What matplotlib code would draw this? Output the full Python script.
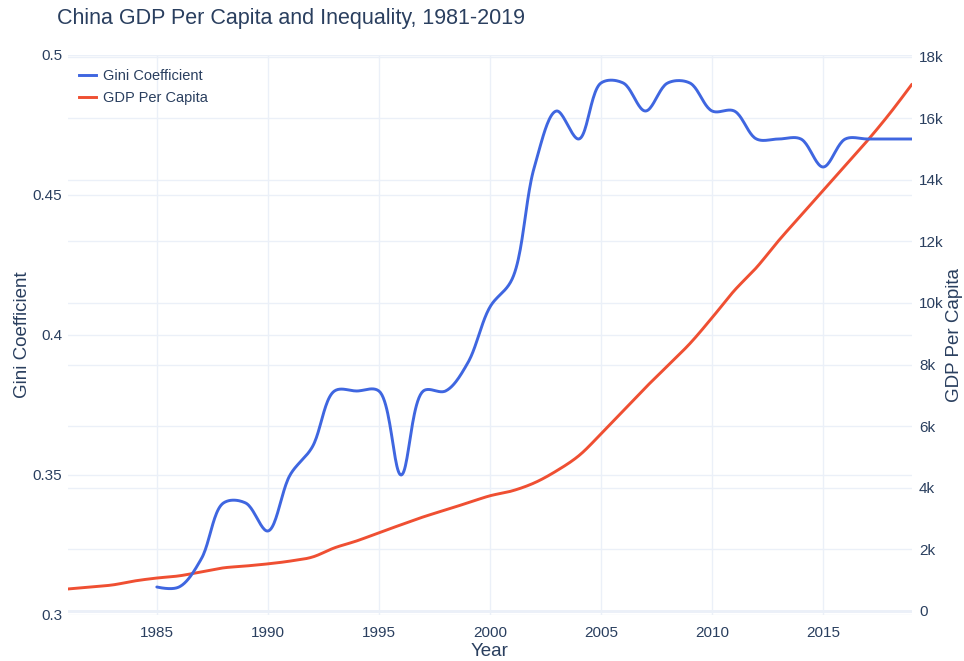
"""
China GDP per capita vs Gini coefficient, 1981-2019
Dual-axis line chart with plotly-style spline smoothing, saved to out.png
"""

import numpy as np
import matplotlib
import matplotlib.pyplot as plt
from matplotlib.lines import Line2D

matplotlib.use("Agg")

# ---- data ----
GINI_YEARS = list(range(1985, 2020))
GINI = [0.31, 0.31, 0.32, 0.34, 0.34, 0.33, 0.35, 0.36, 0.38, 0.38,
        0.38, 0.35, 0.38, 0.38, 0.39, 0.41, 0.42, 0.46, 0.48, 0.47,
        0.49, 0.49, 0.48, 0.49, 0.49, 0.48, 0.48, 0.47, 0.47, 0.47,
        0.46, 0.47, 0.47, 0.47, 0.47]

GDP_YEARS = list(range(1981, 2020))
GDP = [715, 780, 845, 975, 1070, 1140, 1270, 1400, 1460, 1530,
       1620, 1750, 2050, 2275, 2540, 2800, 3055, 3280, 3510, 3740,
       3900, 4160, 4550, 5040, 5750, 6500, 7250, 7960, 8680, 9520,
       10400, 11150, 12025, 12840, 13650, 14460, 15275, 16150, 17100]

GDP_TICKS = [0, 2000, 4000, 6000, 8000, 10000, 12000, 14000, 16000, 18000]
GDP_TICKLABELS = ["0", "2k", "4k", "6k", "8k", "10k", "12k", "14k", "16k", "18k"]
GINI_TICKS = [0.3, 0.35, 0.4, 0.45, 0.5]
GINI_TICKLABELS = ["0.3", "0.35", "0.4", "0.45", "0.5"]
YEAR_TICKS = [1985, 1990, 1995, 2000, 2005, 2010, 2015]

COLORS = {
    "gini": "#3F66E0", "gdp": "#EF4F32", "text": "#2A3F5F",
    "grid": "#EBF0F8", "bg": "#FFFFFF",
}
FONT = "Liberation Sans"
GINI_LIM = (0.3, 0.5)
GDP_LIM = (-130, 18050)


def spline(ax, xs, ys, n=24):
    """Plotly-like smoothed spline (smoothing=1), computed in pixel space."""
    pts = ax.transData.transform(np.column_stack([xs, ys]))
    exp = 0.5
    tangents = []
    for i in range(1, len(pts) - 1):
        p0, p1, p2 = pts[i - 1], pts[i], pts[i + 1]
        d1 = p0 - p1
        d2 = p2 - p1
        d1a = np.hypot(*d1) ** exp
        d2a = np.hypot(*d2) ** exp
        num = d2a * d2a * d1 - d1a * d1a * d2
        den1 = 3 * d2a * (d1a + d2a)
        den2 = 3 * d1a * (d1a + d2a)
        t0 = p1 + (num / den1 if den1 else 0)
        t1 = p1 - (num / den2 if den2 else 0)
        tangents.append((t0, t1))

    t = np.linspace(0, 1, n)[:, None]
    out = [pts[0][None, :]]
    c = tangents[0][0]
    seg = (1 - t) ** 2 * pts[0] + 2 * (1 - t) * t * c + t ** 2 * pts[1]
    out.append(seg[1:])
    for i in range(1, len(pts) - 2):
        a, b = tangents[i - 1][1], tangents[i][0]
        p0, p3 = pts[i], pts[i + 1]
        seg = ((1 - t) ** 3 * p0 + 3 * (1 - t) ** 2 * t * a
               + 3 * (1 - t) * t ** 2 * b + t ** 3 * p3)
        out.append(seg[1:])
    c = tangents[-1][1]
    seg = (1 - t) ** 2 * pts[-2] + 2 * (1 - t) * t * c + t ** 2 * pts[-1]
    out.append(seg[1:])
    pix = np.vstack(out)
    data = ax.transData.inverted().transform(pix)
    return data[:, 0], data[:, 1]


def main():
    plt.rcParams["font.family"] = [FONT, "DejaVu Sans"]
    fig = plt.figure(figsize=(9.64, 6.61), dpi=100, facecolor=COLORS["bg"])
    ax = fig.add_axes([0.0705, 0.0696, 0.8755, 0.8472])   # gini axis + grid
    ax2 = ax.twinx()                                      # gdp axis + line
    ax3 = ax.twinx()                                      # gini line on top

    ax.set_xlim(1981, 2019)
    ax.set_ylim(*GINI_LIM)
    ax2.set_ylim(*GDP_LIM)
    ax3.set_ylim(*GINI_LIM)

    for a in (ax, ax2, ax3):
        for spine in a.spines.values():
            spine.set_visible(False)
        a.tick_params(length=0, colors=COLORS["text"], labelsize=11)
        a.patch.set_visible(False)
    ax.set_zorder(1)
    ax2.set_zorder(2)
    ax3.set_zorder(3)
    ax3.set_yticks([])

    ax.set_xticks(YEAR_TICKS)
    ax.set_yticks(GINI_TICKS)
    ax.set_yticklabels(GINI_TICKLABELS)
    ax2.set_yticks(GDP_TICKS)
    ax2.set_yticklabels(GDP_TICKLABELS)
    ax.tick_params(axis="x", pad=8)
    ax.tick_params(axis="y", pad=4)
    ax2.tick_params(axis="y", pad=5)

    ax.grid(True, color=COLORS["grid"], linewidth=1)
    ax2.grid(True, axis="y", color=COLORS["grid"], linewidth=1)
    ax.set_axisbelow(True)
    ax2.set_axisbelow(True)
    ax2.axhline(0, color=COLORS["grid"], linewidth=2, zorder=0)

    gx, gy = spline(ax2, GDP_YEARS, GDP)
    ax2.plot(gx, gy, color=COLORS["gdp"], linewidth=2.1, solid_capstyle="round")
    sx, sy = spline(ax3, GINI_YEARS, GINI)
    ax3.plot(sx, sy, color=COLORS["gini"], linewidth=2.1, solid_capstyle="round")

    ax.set_xlabel("Year", fontsize=13.5, color=COLORS["text"], labelpad=2)
    ax.set_ylabel("Gini Coefficient", fontsize=13.5, color=COLORS["text"],
                  labelpad=1)
    ax2.set_ylabel("GDP Per Capita", fontsize=13.5, color=COLORS["text"],
                   labelpad=2)

    fig.text(0.059, 0.972, "China GDP Per Capita and Inequality, 1981-2019",
             fontsize=15.5, color=COLORS["text"], va="center", ha="left")

    handles = [Line2D([], [], color=COLORS["gini"], linewidth=2.1),
               Line2D([], [], color=COLORS["gdp"], linewidth=2.1)]
    leg = ax3.legend(handles, ["Gini Coefficient", "GDP Per Capita"],
                     loc="upper left", bbox_to_anchor=(0.0, 0.995),
                     frameon=False, fontsize=10.5, handlelength=1.15,
                     handletextpad=0.5, labelspacing=0.6, borderaxespad=0.35)
    for txt in leg.get_texts():
        txt.set_color(COLORS["text"])

    fig.savefig("out.png", dpi=100, facecolor=COLORS["bg"])
    plt.close(fig)


if __name__ == "__main__":
    main()
